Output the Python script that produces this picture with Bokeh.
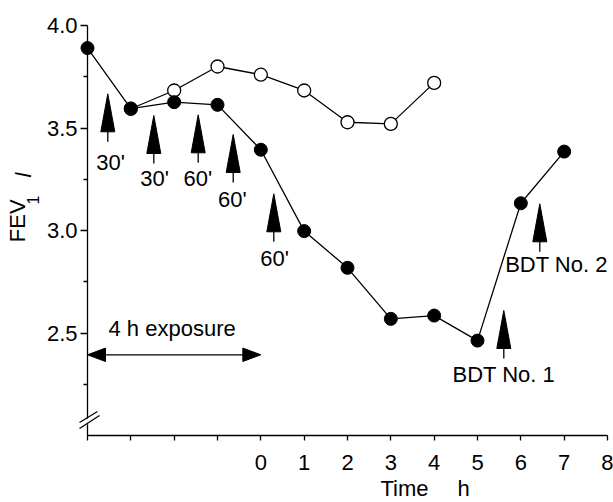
import numpy as np
from bokeh.plotting import figure
from bokeh.models import FixedTicker, Label, Arrow, Range1d, LinearAxis
from bokeh.embed import file_html
from bokeh.resources import INLINE

# ---------------- data ----------------
filled_time = [-4, -3, -2, -1, 0, 1, 2, 3, 4, 5, 6, 7]
filled_fev = [3.89, 3.594, 3.626, 3.613, 3.394, 2.997, 2.818, 2.569, 2.585, 2.463, 3.133, 3.385]
open_time = [-3, -2, -1, 0, 1, 2, 3, 4]
open_fev = [3.594, 3.683, 3.80, 3.76, 3.683, 3.528, 3.52, 3.72]

x_ticks = [-4, -3, -2, -1, 0, 1, 2, 3, 4, 5, 6, 7, 8]
x_tick_labels = ["", "", "", "", "0", "1", "2", "3", "4", "5", "6", "7", "8"]
y_ticks = [2.5, 3.0, 3.5, 4.0]
y_tick_labels = ["2.5", "3.0", "3.5", "4.0"]
y_minor_ticks = [2.25, 2.75, 3.25, 3.75]

arrow_texts = ["30'", "30'", "60'", "60'", "60'", "BDT No. 1", "BDT No. 2"]
exposure_text = "4 h exposure"

# ---------------- layout helpers (canvas pixels -> data) ----------------
FONT = "Liberation Sans"
FS = "22px"
W, H = 613, 502
XMIN, XMAX, YMIN, YMAX = -4.0, 8.0, 2.0, 4.0
AX_LEFT, AX_RIGHT, AX_TOP, AX_BOTTOM = 87, 607, 25, 435
ux = (AX_RIGHT - AX_LEFT) / (XMAX - XMIN)
uy = (AX_BOTTOM - AX_TOP) / (YMAX - YMIN)


def dx(px):
    return XMIN + (px - AX_LEFT) / ux


def dy(py):
    return YMAX - (py - AX_TOP) / uy


p = figure(width=W, height=H, output_backend="svg", toolbar_location=None,
           x_range=Range1d(dx(0), dx(W)), y_range=Range1d(dy(H), dy(0)),
           x_axis_location=None, y_axis_location=None,
           min_border_left=0, min_border_right=0,
           min_border_top=0, min_border_bottom=0)
p.outline_line_color = None
p.grid.visible = False
p.background_fill_color = "white"
p.border_fill_color = "white"

# axes (drawn at the data location of the original frame)
xa = LinearAxis(fixed_location=YMIN, bounds=(XMIN, XMAX))
xa.ticker = FixedTicker(ticks=x_ticks, minor_ticks=[])
xa.major_label_overrides = {t: l for t, l in zip(x_ticks, x_tick_labels)}
xa.major_tick_in = 0
xa.major_tick_out = 5
xa.minor_tick_out = 0
xa.major_label_standoff = 14
ya = LinearAxis(fixed_location=XMIN, bounds=(YMIN, YMAX))
ya.ticker = FixedTicker(ticks=y_ticks, minor_ticks=y_minor_ticks)
ya.major_label_overrides = {t: l for t, l in zip(y_ticks, y_tick_labels)}
ya.major_tick_in = 0
ya.major_tick_out = 7
ya.minor_tick_in = 0
ya.minor_tick_out = 4
ya.major_label_standoff = 3
for ax in (xa, ya):
    ax.axis_line_color = "black"
    ax.axis_line_width = 1.3
    ax.major_tick_line_color = "black"
    ax.major_tick_line_width = 1.3
    ax.minor_tick_line_color = "black"
    ax.minor_tick_line_width = 1.3
    ax.major_label_text_font = FONT
    ax.major_label_text_font_size = FS
    ax.major_label_text_color = "black"
p.add_layout(xa, "below")
p.add_layout(ya, "left")

# data lines and markers
p.line(open_time, open_fev, line_color="black", line_width=1.3)
p.line(filled_time, filled_fev, line_color="black", line_width=1.3)
p.scatter(open_time, open_fev, size=13, marker="circle", fill_color="white",
          line_color="black", line_width=1.3)
p.scatter(filled_time, filled_fev, size=13, marker="circle", fill_color="black",
          line_color="black")


def text(x, y, s, align="center", angle=0.0, size=FS, style="normal"):
    # (x, y): canvas px of the visual centre line of the text
    p.add_layout(Label(x=dx(x), y=dy(y), text=s, text_align=align,
                       text_baseline="middle", angle=angle, text_font=FONT,
                       text_font_size=size, text_font_style=style,
                       text_color="black"))


# upward arrows (tip in canvas px) and their labels
arrow_tips = [(107.3, 93.3), (153.3, 115.0), (197.7, 114.3), (232.7, 134.0),
              (273.3, 193.3), (503.3, 310.0), (539.3, 203.3)]
label_pos = [(110.0, 161.5), (154.2, 178.0), (197.3, 178.0), (231.8, 199.2),
             (274.0, 257.8), (503.3, 374.2), (556.0, 264.2)]
HEAD_H, HEAD_W, STEM = 38, 14, 10
xs, ys, sx0, sy0, sy1 = [], [], [], [], []
for (tx, ty) in arrow_tips:
    xs.append([dx(tx), dx(tx - HEAD_W / 2), dx(tx + HEAD_W / 2)])
    ys.append([dy(ty), dy(ty + HEAD_H), dy(ty + HEAD_H)])
    sx0.append(dx(tx))
    sy0.append(dy(ty + HEAD_H - 1))
    sy1.append(dy(ty + HEAD_H + STEM))
p.patches(xs, ys, fill_color="black", line_color="black", line_width=1)
p.segment(sx0, sy0, sx0, sy1, line_color="black", line_width=1.3)
for txt, (lx, ly) in zip(arrow_texts, label_pos):
    text(lx, ly, txt)

# 4 h exposure double arrow
EY = 354.3
ey = dy(EY)
EH_L, EH_W = 18, 13.4
right_tip_px = AX_LEFT + 4 * ux
p.segment([dx(AX_LEFT + EH_L - 1)], [ey], [dx(right_tip_px - EH_L + 1)], [ey],
          line_color="black", line_width=1.3)
p.patches([[XMIN, dx(AX_LEFT + EH_L), dx(AX_LEFT + EH_L)],
           [0.0, dx(right_tip_px - EH_L), dx(right_tip_px - EH_L)]],
          [[ey, dy(EY - EH_W / 2), dy(EY + EH_W / 2)],
           [ey, dy(EY - EH_W / 2), dy(EY + EH_W / 2)]],
          fill_color="black", line_color="black", line_width=1)
text(108, 327.5, exposure_text, align="left")

# axis break marks
p.add_layout(Arrow(end=None, x_start=dx(80), y_start=dy(425.5), x_end=dx(97),
                   y_end=dy(414.5), line_color="white", line_width=4.5))
p.add_layout(Arrow(end=None, x_start=dx(79), y_start=dy(422), x_end=dx(97),
                   y_end=dy(411), line_color="black", line_width=1.3))
p.add_layout(Arrow(end=None, x_start=dx(79), y_start=dy(428), x_end=dx(99),
                   y_end=dy(415), line_color="black", line_width=1.3))

# axis titles
text(380, 487.5, "Time", align="left")
text(457, 487.5, "h", align="left")
text(16.5, 241.7, "FEV", align="left", angle=np.pi / 2)
text(32, 204, "1", align="left", angle=np.pi / 2, size="16px")
text(22.5, 177, "l", align="left", angle=np.pi / 2, style="italic")

open("out.html", "w").write(file_html(p, INLINE))
